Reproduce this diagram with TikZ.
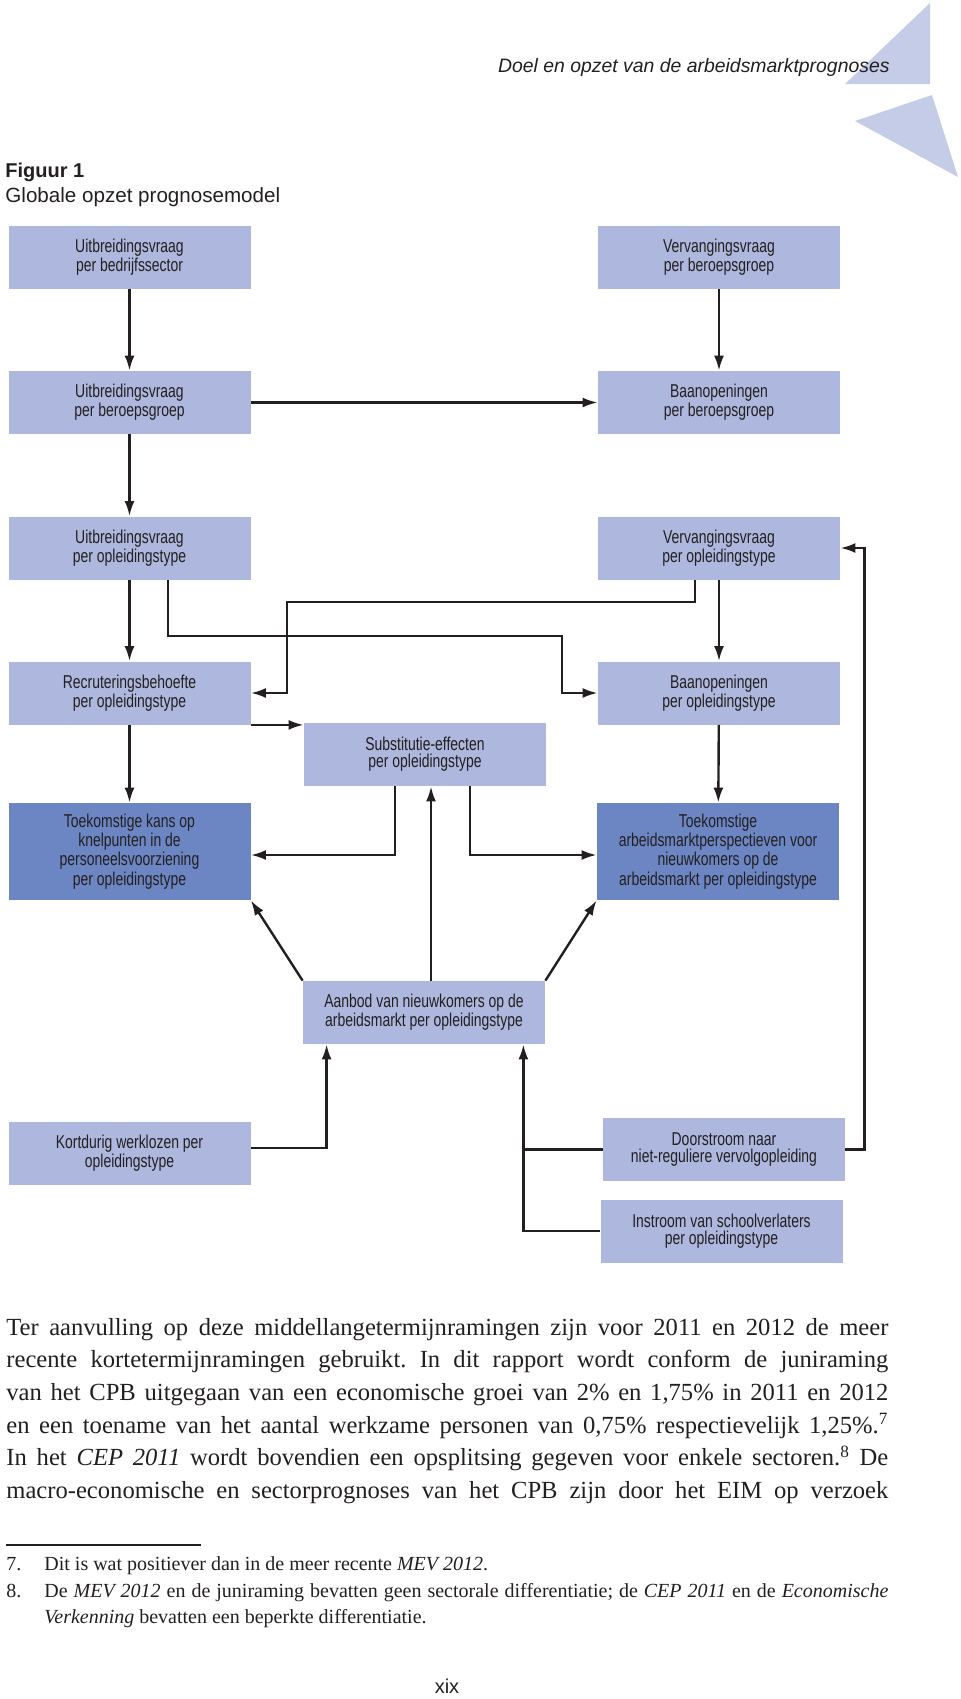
\documentclass[tikz,border=0pt]{standalone}
\usepackage{fontspec}
\setmainfont{Liberation Serif}
\setsansfont{Liberation Sans}
\newfontfamily\condfont[FakeStretch=0.75]{Liberation Sans}
\usetikzlibrary{arrows.meta, positioning}
\definecolor{boxlight}{RGB}{174,184,222}
\definecolor{boxdark}{RGB}{108,134,196}
\definecolor{trilight}{RGB}{197,204,232}
\definecolor{inkgrey}{RGB}{35,31,32}
\frenchspacing
\tikzset{
	x=0.5pt, y=-0.5pt,
	box/.style={fill=boxlight, text=inkgrey, minimum width=121pt, minimum height=31.5pt, inner sep=0pt, align=center, font=\condfont\fontsize{9.3}{8.5}\selectfont},
	darkbox/.style={box, fill=boxdark, minimum height=48.5pt},
	flow/.style={draw=inkgrey, line width=1.2pt, -{Latex[length=7.5pt,width=5pt]}},
	link/.style={draw=inkgrey, line width=1.2pt},
	plain/.style={inner sep=0pt, text=inkgrey},
	bodytext/.style={plain, font=\rmfamily\fontsize{12.3}{16.35}\selectfont},
	notetext/.style={plain, font=\rmfamily\fontsize{10}{13.3}\selectfont}
}

\begin{document}
\begin{tikzpicture}
\useasboundingbox (0,0) rectangle (960,1699);

\fill[trilight] (930,3) -- (930,84) -- (845,84) -- cycle;
\fill[trilight] (932,95) -- (958,177) -- (855,121) -- cycle;
\node[plain, anchor=base east, font=\sffamily\itshape\fontsize{9.7}{11}\selectfont] (kop) at (890,72.5) {Doel en opzet van de arbeidsmarktprognoses};

\node[plain, anchor=base west, font=\sffamily\bfseries\fontsize{10}{12}\selectfont] (fig) at (5,177) {Figuur 1};
\node[plain, anchor=base west, font=\sffamily\fontsize{10.3}{12}\selectfont] (titel) at (5,202) {Globale opzet prognosemodel};

\node[box] (ubs) at (129.5,257.5) {Uitbreidingsvraag\\per bedrijfssector};
\node[box] (vbg) at (719,257.5) {Vervangingsvraag\\per beroepsgroep};
\node[box] (ubg) at (129.5,402.5) {Uitbreidingsvraag\\per beroepsgroep};
\node[box] (bbg) at (719,402.5) {Baanopeningen\\per beroepsgroep};
\node[box] (uot) at (129.5,548) {Uitbreidingsvraag\\per opleidingstype};
\node[box] (vot) at (719,548) {Vervangingsvraag\\per opleidingstype};
\node[box] (rot) at (129.5,693) {Recruteringsbehoefte\\per opleidingstype};
\node[box] (bot) at (719,693) {Baanopeningen\\per opleidingstype};
\node[box] (sub) at (425,754.5) {Substitutie-effecten\\per opleidingstype};
\node[darkbox] (kans) at (129.5,851.5) {Toekomstige kans op\\knelpunten in de\\personeelsvoorziening\\per opleidingstype};
\node[darkbox] (persp) at (718,851.5) {Toekomstige\\arbeidsmarktperspectieven voor\\nieuwkomers op de\\arbeidsmarkt per opleidingstype};
\node[box] (aan) at (424,1012.5) {Aanbod van nieuwkomers op de\\arbeidsmarkt per opleidingstype};
\node[box] (kw) at (129.5,1153) {Kortdurig werklozen per\\opleidingstype};
\node[box] (ds) at (724,1149.5) {Doorstroom naar\\niet-reguliere vervolgopleiding};
\node[box] (is) at (721.5,1231) {Instroom van schoolverlaters\\per opleidingstype};

\draw[flow] (ubs) -- (ubg);
\draw[flow] (vbg) -- (bbg);
\draw[flow] (ubg) -- (bbg);
\draw[flow] (ubg) -- (uot);
\draw[flow] (uot) -- (rot);
\draw[flow] (vot) -- (bot);
\draw[flow] ([xshift=19.25pt]uot.south) |- (562,636) |- (bot.west);
\draw[flow] ([xshift=-12pt]vot.south) |- (287,602) |- (rot.east);
\draw[flow] (rot.south east) -- (rot.south east -| sub.west);
\draw[flow] (rot) -- (kans);
\draw[flow] (bot) -- (persp);
\draw[flow] ([xshift=-15pt]sub.south) |- ([yshift=-1.75pt]kans.east);
\draw[flow] ([xshift=22.5pt]sub.south) |- ([yshift=-1.75pt]persp.east -| persp.west);
\draw[flow] ([xshift=3.5pt]aan.north) -- ([xshift=3.5pt]aan.north |- sub.south);
\draw[flow] (aan.north west) -- (kans.south east);
\draw[flow] (aan.north east) -- (persp.south west);
\draw[flow] ([yshift=2.5pt]kw.east) -| ([xshift=12pt]aan.south west);
\draw[flow] (is.west) -| ([xshift=-11pt]aan.south east);
\coordinate (knoop) at ([xshift=-11pt]aan.south east |- ds.west);
\draw[link] (ds.west) -- (knoop);
\draw[flow] (ds.east) -- ++(19,0) |- (vot.east);

\node[bodytext, anchor=base west, text width=441pt, align=justify] (tekst) at (6,1335) {\tolerance=10000 \hyphenpenalty=10000 \exhyphenpenalty=10000
Ter aanvulling op deze middellangetermijnramingen zijn voor 2011 en 2012 de meer\linebreak
recente kortetermijnramingen gebruikt. In dit rapport wordt conform de juniraming\linebreak
van het CPB uitgegaan van een economische groei van 2\% en 1,75\% in 2011 en 2012\linebreak
en een toename van het aantal werkzame personen van 0,75\% respectievelijk 1,25\%.\textsuperscript{7}\linebreak
In het \textit{CEP 2011} wordt bovendien een opsplitsing gegeven voor enkele sectoren.\textsuperscript{8} De\linebreak
macro-economische en sectorprognoses van het CPB zijn door het EIM op verzoek\linebreak};

\draw[inkgrey, line width=0.8pt] (6,1545) -- (201,1545);
\node[notetext, anchor=base west] (n7) at (6,1570) {7.};
\node[notetext, anchor=base west] (v7) at (44,1570) {Dit is wat positiever dan in de meer recente \textit{MEV 2012}.};
\node[notetext, anchor=base west] (n8) at (6,1597) {8.};
\node[notetext, anchor=base west, text width=422pt, align=justify] (v8) at (44,1597) {\tolerance=10000 \hyphenpenalty=10000
De \textit{MEV 2012} en de juniraming bevatten geen sectorale differentiatie; de \textit{CEP 2011} en de \textit{Economische}\linebreak
\textit{Verkenning} bevatten een beperkte differentiatie.};

\node[plain, anchor=base, font=\sffamily\fontsize{10}{12}\selectfont] (blad) at (447,1693) {xix};
\end{tikzpicture}
\end{document}
